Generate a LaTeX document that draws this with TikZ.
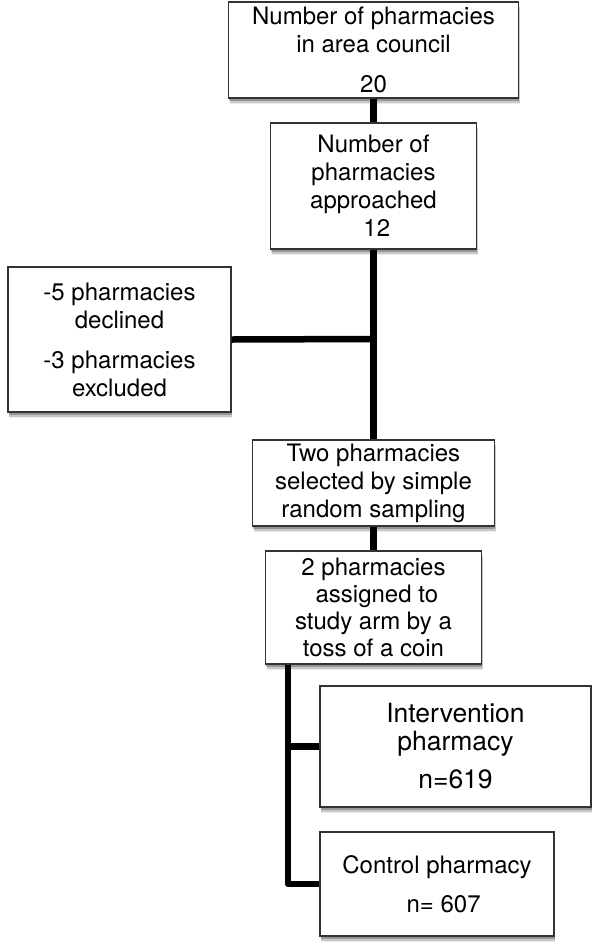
\documentclass[tikz,border=0pt]{standalone}
\usepackage{fontspec}
\setmainfont{TeX Gyre Heros}
\usetikzlibrary{shadows}
\tikzset{
  box/.style={draw=black!80, line width=1.1pt, fill=white, inner sep=0pt, align=center,
    font=\fontsize{24}{28}\selectfont,
    drop shadow={shadow xshift=1pt, shadow yshift=-6pt, opacity=0.08, fill=black},
    drop shadow={shadow xshift=1pt, shadow yshift=-4.5pt, opacity=0.15, fill=black},
    drop shadow={shadow xshift=0.5pt, shadow yshift=-3pt, opacity=0.25, fill=black}},
  link/.style={line width=6.5pt, black, line join=round}
}
\begin{document}
\begin{tikzpicture}[x=1pt,y=-1pt]
\useasboundingbox (0,0) rectangle (600,951);
\node[box, minimum width=290pt, minimum height=96pt] (b1) at (373.5,50)
  {Number of pharmacies\\ in area council\\[12pt] 20};
\node[box, minimum width=206pt, minimum height=126pt] (b2) at (373.5,186)
  {Number of\\ pharmacies\\ approached\\ \ 12};
\node[box, minimum width=223pt, minimum height=145pt] (b3) at (119.5,339.5)
  {-5 pharmacies\\ declined\\[12pt] -3 pharmacies\\ excluded};
\node[box, minimum width=242pt, minimum height=86pt] (b4) at (373.5,483)
  {Two pharmacies\\ selected by simple\\ random sampling};
\node[box, minimum width=216pt, minimum height=113pt, font=\fontsize{24}{27}\selectfont] (b5) at (373.5,607.5)
  {2 pharmacies\\ \ assigned to\\ study arm by a\\ toss of a coin};
\node[box, minimum width=271pt, minimum height=121pt, font=\fontsize{26.5}{28}\selectfont] (b6) at (455.5,746.5)
  {Intervention\\ pharmacy\\[10pt] n=619};
\node[box, minimum width=234pt, minimum height=104pt, font=\fontsize{24}{39}\selectfont] (b7) at (437,884)
  {Control pharmacy\\ \ \ n= 607};
\coordinate (j1) at (373.5,339);
\coordinate (k) at (288,884);
\draw[link] (b1.south) -- (b2.north);
\draw[link] (b2.south) -- (b4.north);
\draw[link] (b3.east) -- (j1);
\draw[link] (b4.south) -- (b5.north);
\draw[link] (b5.south -| k) -- (k) -- (b7.west);
\draw[link] (b6.west -| k) -- (b6.west);
\end{tikzpicture}
\end{document}
